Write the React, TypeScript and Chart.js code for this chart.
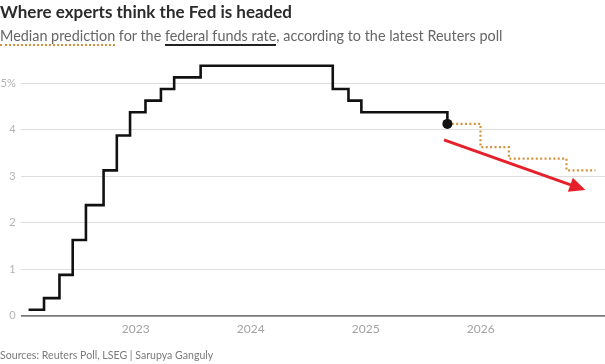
import React, { useEffect, useRef } from 'react';
import { Chart, registerables } from 'chart.js';

Chart.register(...registerables);

// Fed funds target-range midpoint (%), at each change date
const rateDates = [
  '2022-01-26', '2022-03-16', '2022-05-04', '2022-06-15', '2022-07-27',
  '2022-09-21', '2022-11-02', '2022-12-14', '2023-02-01', '2023-03-22',
  '2023-05-03', '2023-07-26', '2024-09-18', '2024-11-07', '2024-12-18',
  '2025-09-17',
];
const rateValues = [
  0.125, 0.375, 0.875, 1.625, 2.375,
  3.125, 3.875, 4.375, 4.625, 4.875,
  5.125, 5.375, 4.875, 4.625, 4.375,
  4.125,
];

// Reuters poll median forecast
const forecastDates = ['2025-09-17', '2025-12-31', '2026-03-31', '2026-09-30', '2026-12-31'];
const forecastValues = [4.125, 3.625, 3.375, 3.125, 3.125];

// Red trend arrow (decimal year, %)
const arrowX = [2025.68, 2026.91];
const arrowY = [3.78, 2.7];

const xTickYears = [2023, 2024, 2025, 2026];
const xTickLabels = ['2023', '2024', '2025', '2026'];
const yTickValues = [0, 1, 2, 3, 4, 5];
const yTickLabels = ['0', '1', '2', '3', '4', '5%'];

function toYear(d: string): number {
  const [y, m, day] = d.split('-').map(Number);
  const start = Date.UTC(y, 0, 1);
  const end = Date.UTC(y + 1, 0, 1);
  return y + (Date.UTC(y, m - 1, day) - start) / (end - start);
}

const FONT = 'Lato, "Noto Sans", sans-serif';
const RED = '#e5202a';

const arrowPlugin = {
  id: 'arrowPlugin',
  afterDatasetsDraw(chart: any) {
    const meta = chart.getDatasetMeta(2);
    if (!meta || !meta.data || meta.data.length < 2) return;
    const a = meta.data[0];
    const b = meta.data[1];
    const ctx = chart.ctx;
    const ang = Math.atan2(b.y - a.y, b.x - a.x);
    const cos = Math.cos(ang);
    const sin = Math.sin(ang);
    const len = 16;
    const half = 7.5;
    ctx.save();
    ctx.strokeStyle = RED;
    ctx.fillStyle = RED;
    ctx.lineWidth = 3;
    ctx.beginPath();
    ctx.moveTo(a.x, a.y);
    ctx.lineTo(b.x - len * 0.7 * cos, b.y - len * 0.7 * sin);
    ctx.stroke();
    ctx.beginPath();
    ctx.moveTo(b.x, b.y);
    ctx.lineTo(b.x - len * cos + half * sin, b.y - len * sin - half * cos);
    ctx.lineTo(b.x - len * cos - half * sin, b.y - len * sin + half * cos);
    ctx.closePath();
    ctx.fill();
    ctx.restore();
  },
};

export default function App() {
  const canvasRef = useRef<HTMLCanvasElement | null>(null);

  useEffect(() => {
    document.body.style.margin = '0';
    const canvas = canvasRef.current;
    if (!canvas) return;

    const histData = rateDates.map((d, i) => ({ x: toYear(d), y: rateValues[i] }));
    const fcData = forecastDates.map((d, i) => ({ x: toYear(d), y: forecastValues[i] }));
    const arrowData = arrowX.map((x, i) => ({ x, y: arrowY[i] }));
    const lastIdx = histData.length - 1;

    const chart = new Chart(canvas, {
      type: 'line',
      data: {
        datasets: [
          {
            data: histData,
            borderColor: '#111111',
            backgroundColor: '#111111',
            borderWidth: 2.6,
            stepped: 'before',
            pointRadius: histData.map((_, i) => (i === lastIdx ? 5 : 0)),
            pointBackgroundColor: '#111111',
            pointBorderWidth: 0,
            fill: false,
            order: 1,
          },
          {
            data: fcData,
            borderColor: '#d4923c',
            borderWidth: 2.2,
            borderDash: [2, 2.4],
            stepped: 'before',
            pointRadius: 0,
            fill: false,
            order: 2,
          },
          {
            data: arrowData,
            showLine: false,
            pointRadius: 0,
            borderWidth: 0,
            order: 0,
          },
        ],
      },
      options: {
        responsive: false,
        animation: false,
        events: [],
        layout: { autoPadding: false, padding: { top: 60, left: 0, right: 0, bottom: 0 } },
        plugins: {
          legend: { display: false },
          tooltip: { enabled: false },
          title: { display: false },
        },
        scales: {
          x: {
            type: 'linear',
            min: 2022,
            max: 2027.08,
            grid: { display: false, drawTicks: false },
            border: { display: false },
            afterBuildTicks: (scale: any) => {
              scale.ticks = xTickYears.map((v) => ({ value: v }));
            },
            afterFit: (scale: any) => {
              scale.height = 48.5;
              scale.paddingLeft = 0;
              scale.paddingRight = 0;
            },
            ticks: {
              padding: 6,
              maxRotation: 0,
              color: '#a3a3a3',
              font: { family: FONT, size: 12 },
              callback: (v: any) => {
                const i = xTickYears.indexOf(Number(v));
                return i >= 0 ? xTickLabels[i] : '';
              },
            },
          },
          y: {
            type: 'linear',
            min: 0,
            max: 5.5,
            afterBuildTicks: (scale: any) => {
              scale.ticks = yTickValues.map((v) => ({ value: v }));
            },
            afterFit: (scale: any) => {
              scale.width = 20.7;
              scale.paddingTop = 0;
              scale.paddingBottom = 0;
            },
            grid: {
              drawTicks: false,
              color: (c: any) => (c.tick && c.tick.value === 0 ? '#7a7a7a' : '#dedede'),
              lineWidth: (c: any) => (c.tick && c.tick.value === 0 ? 1.7 : 1),
            },
            border: { display: false },
            ticks: {
              padding: 5,
              color: '#b3b3b3',
              font: { family: FONT, size: 11 },
              callback: (v: any) => {
                const i = yTickValues.indexOf(Number(v));
                return i >= 0 ? yTickLabels[i] : '';
              },
            },
          },
        },
      },
      plugins: [arrowPlugin],
    });

    return () => {
      chart.destroy();
    };
  }, []);

  return (
    <div style={{ position: 'relative', width: 605, height: 364, background: '#ffffff', overflow: 'hidden', fontFamily: FONT }}>
      <canvas ref={canvasRef} width={605} height={364} style={{ position: 'absolute', left: 0, top: 0 }} />
      <div style={{ position: 'absolute', left: 0, top: 1, fontSize: 17, fontWeight: 700, color: '#2b2b2b', whiteSpace: 'nowrap', lineHeight: '22px' }}>
        Where experts think the Fed is headed
      </div>
      <div style={{ position: 'absolute', left: 0, top: 27, fontSize: 14.4, color: '#666666', whiteSpace: 'nowrap', lineHeight: '18px' }}>
        <span style={{ borderBottom: '2px dotted #d4923c' }}>Median prediction</span>
        {' for the '}
        <span style={{ borderBottom: '2px solid #222222' }}>federal funds rate</span>
        , according to the latest Reuters poll
      </div>
      <div style={{ position: 'absolute', left: 0, top: 348, fontSize: 10.6, color: '#7a7a7a', whiteSpace: 'nowrap', lineHeight: '14px' }}>
        Sources: Reuters Poll, LSEG | Sarupya Ganguly
      </div>
    </div>
  );
}
